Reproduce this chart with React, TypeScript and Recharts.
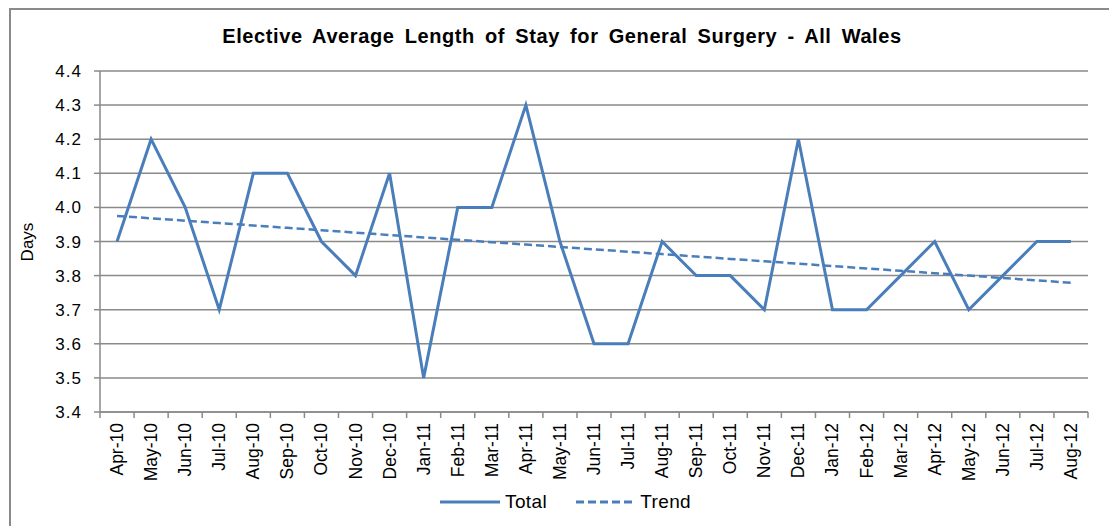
import { CartesianGrid, Legend, Line, LineChart, XAxis, YAxis } from "recharts"

const months = [
  "Apr-10", "May-10", "Jun-10", "Jul-10", "Aug-10", "Sep-10", "Oct-10", "Nov-10", "Dec-10",
  "Jan-11", "Feb-11", "Mar-11", "Apr-11", "May-11", "Jun-11", "Jul-11", "Aug-11", "Sep-11",
  "Oct-11", "Nov-11", "Dec-11", "Jan-12", "Feb-12", "Mar-12", "Apr-12", "May-12", "Jun-12",
  "Jul-12", "Aug-12",
];

const total = [
  3.9, 4.2, 4.0, 3.7, 4.1, 4.1, 3.9, 3.8, 4.1,
  3.5, 4.0, 4.0, 4.3, 3.9, 3.6, 3.6, 3.9, 3.8,
  3.8, 3.7, 4.2, 3.7, 3.7, 3.8, 3.9, 3.7, 3.8,
  3.9, 3.9,
];

// trend line
const trend = [
  3.975, 3.968, 3.961, 3.954, 3.947, 3.94, 3.933, 3.926, 3.919,
  3.912, 3.905, 3.898, 3.891, 3.884, 3.877, 3.87, 3.863, 3.856,
  3.849, 3.842, 3.835, 3.828, 3.821, 3.814, 3.807, 3.8, 3.793,
  3.786, 3.779,
];

const yTicks = [3.4, 3.5, 3.6, 3.7, 3.8, 3.9, 4.0, 4.1, 4.2, 4.3, 4.4];

const data = months.map((m, i) => ({ month: m, total: total[i], trend: trend[i] }));

const FONT = "'Liberation Sans', Arial, sans-serif";
const BLUE = "#4a7ebb";
const GRID = "#8a8a8a";

const PLOT_LEFT = 100;
const PLOT_RIGHT = 1088;
const AXIS_Y = 412;
const BAND = (PLOT_RIGHT - PLOT_LEFT) / months.length;

function MonthTick(props: any) {
  const { x, payload, index } = props;
  const ty = AXIS_Y + 11;
  return (
    <g>
      <line x1={x - BAND / 2} y1={AXIS_Y} x2={x - BAND / 2} y2={AXIS_Y + 6} stroke={GRID} strokeWidth={1.5} />
      {index === months.length - 1 && (
        <line x1={x + BAND / 2} y1={AXIS_Y} x2={x + BAND / 2} y2={AXIS_Y + 6} stroke={GRID} strokeWidth={1.5} />
      )}
      <text
        x={x}
        y={ty}
        transform={`rotate(-90 ${x} ${ty})`}
        textAnchor="end"
        dominantBaseline="central"
        fontFamily={FONT}
        fontSize={17.5}
        fill="#000"
      >
        {payload.value}
      </text>
    </g>
  );
}

function DaysLabel() {
  return (
    <text
      x={27}
      y={242}
      transform="rotate(-90 27 242)"
      textAnchor="middle"
      dominantBaseline="central"
      fontFamily={FONT}
      fontSize={17}
      fill="#000"
    >
      Days
    </text>
  );
}

function LegendBox() {
  return (
    <div style={{ display: "flex", alignItems: "center", height: 24, paddingLeft: 440, fontFamily: FONT, fontSize: 19, letterSpacing: 0.4 }}>
      <svg width={60} height={6} style={{ marginRight: 5 }}>
        <line x1={0} y1={3} x2={60} y2={3} stroke={BLUE} strokeWidth={3} />
      </svg>
      <span style={{ marginRight: 29 }}>Total</span>
      <svg width={58} height={6} style={{ marginRight: 6 }}>
        <line x1={0} y1={3} x2={58} y2={3} stroke={BLUE} strokeWidth={3} strokeDasharray="8 4" />
      </svg>
      <span>Trend</span>
    </div>
  );
}

export default function App() {
  return (
    <div style={{ position: "absolute", left: 0, top: 0, width: 1109, height: 526, background: "#fff", overflow: "hidden" }}>
      <div
        style={{
          position: "absolute", left: 9, top: 8, width: 1120, height: 540,
          borderTop: `2px solid ${GRID}`, borderLeft: `2px solid ${GRID}`,
        }}
      />
      <div
        style={{
          position: "absolute", left: 0, top: 25, width: 1124, textAlign: "center",
          fontFamily: FONT, fontWeight: "bold", fontSize: 20, letterSpacing: 0.6, wordSpacing: 4,
        }}
      >
        Elective Average Length of Stay for General Surgery - All Wales
      </div>
      <LineChart
        width={1109}
        height={526}
        data={data}
        margin={{ top: 71, right: 1109 - PLOT_RIGHT, bottom: 12, left: 0 }}
        style={{ position: "absolute", left: 0, top: 0 }}
      >
        <CartesianGrid vertical={false} stroke={GRID} strokeWidth={1.5} />
        <XAxis
          dataKey="month"
          interval={0}
          height={78}
          padding={{ left: BAND / 2, right: BAND / 2 }}
          tickLine={false}
          axisLine={{ stroke: GRID, strokeWidth: 1.5 }}
          tick={<MonthTick />}
        />
        <YAxis
          width={PLOT_LEFT}
          domain={[3.4, 4.4]}
          ticks={yTicks}
          tickFormatter={(v: number) => v.toFixed(1)}
          tickSize={6}
          tickMargin={12}
          tickLine={{ stroke: GRID, strokeWidth: 1.5 }}
          axisLine={{ stroke: GRID, strokeWidth: 1.5 }}
          tick={{ fontFamily: FONT, fontSize: 17, fill: "#000", letterSpacing: 1 }}
          label={<DaysLabel />}
        />
        <Legend verticalAlign="bottom" height={24} wrapperStyle={{ left: 0, width: 1109 }} content={() => <LegendBox />} />
        <Line type="linear" dataKey="total" stroke={BLUE} strokeWidth={3} dot={false} isAnimationActive={false} />
        <Line type="linear" dataKey="trend" stroke={BLUE} strokeWidth={2.5} strokeDasharray="8 4" dot={false} isAnimationActive={false} />
      </LineChart>
    </div>
  );
}
